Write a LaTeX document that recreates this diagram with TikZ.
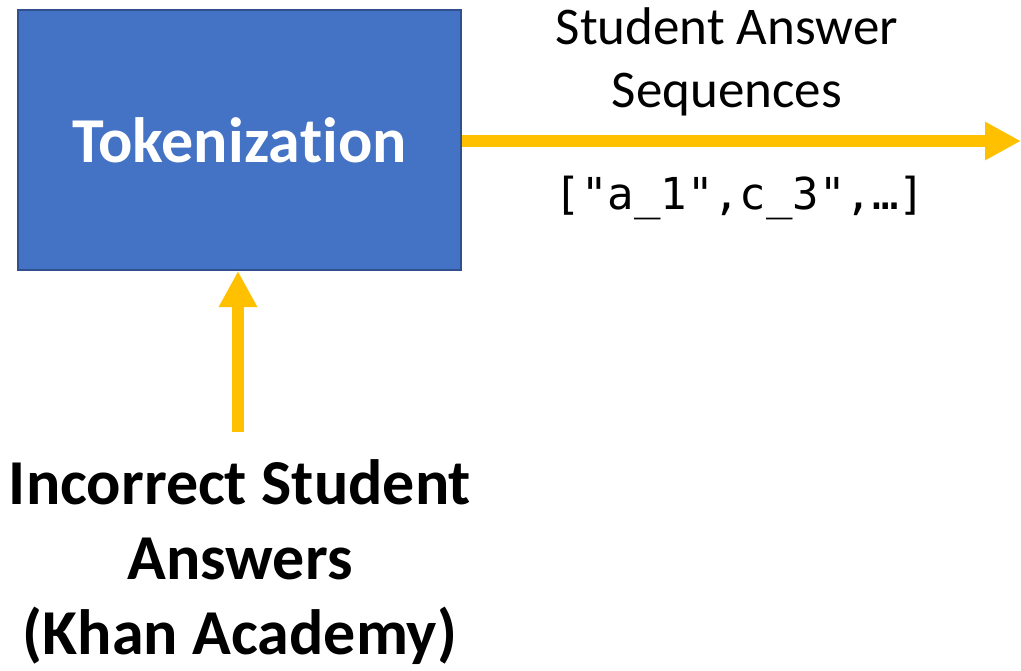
\documentclass[tikz,border=0pt]{standalone}
\usepackage{fontspec}
\setmainfont{Carlito}[Ligatures=NoCommon]
\newfontfamily\codefont{DejaVu Sans Mono}
\usetikzlibrary{arrows.meta}
\definecolor{boxblue}{HTML}{4472C4}
\definecolor{boxedge}{HTML}{2F528F}
\definecolor{arrowyellow}{HTML}{FFC000}
\tikzset{
  procbox/.style={draw=boxedge, line width=2pt, fill=boxblue, minimum width=443pt, minimum height=260pt, inner sep=0pt, text=white, font=\fontsize{64}{74}\selectfont\bfseries},
  flow/.style={draw=arrowyellow, line width=12pt, -{Triangle[length=36pt, width=36pt]}},
  label/.style={align=center, inner sep=0pt},
}
\begin{document}
\begin{tikzpicture}[x=1pt, y=-1pt]
\useasboundingbox (0,0) rectangle (1021,670);
\node[procbox] (tok) at (239.5,140) {Tokeniza\kern0ptt\kern0ption};
\coordinate (outend) at (1021,141);
\coordinate (instart) at (238,432);
\draw[flow] (tok.east |- 0,141) -- (outend);
\draw[flow] (instart) -- (238,271);
\node[label, font=\fontsize{53}{63}\selectfont] (seqlbl) at (727,62) {Student Answer\\Sequences};
\node[label, font=\fontsize{44}{50}\codefont] (code) at (740,198) {["a\_1",c\_3",…]};
\node[label, font=\fontsize{64}{75}\selectfont\bfseries] (inlbl) at (240,562) {Incorrect Student\\Answers\\(Khan Academy)};
\end{tikzpicture}
\end{document}
